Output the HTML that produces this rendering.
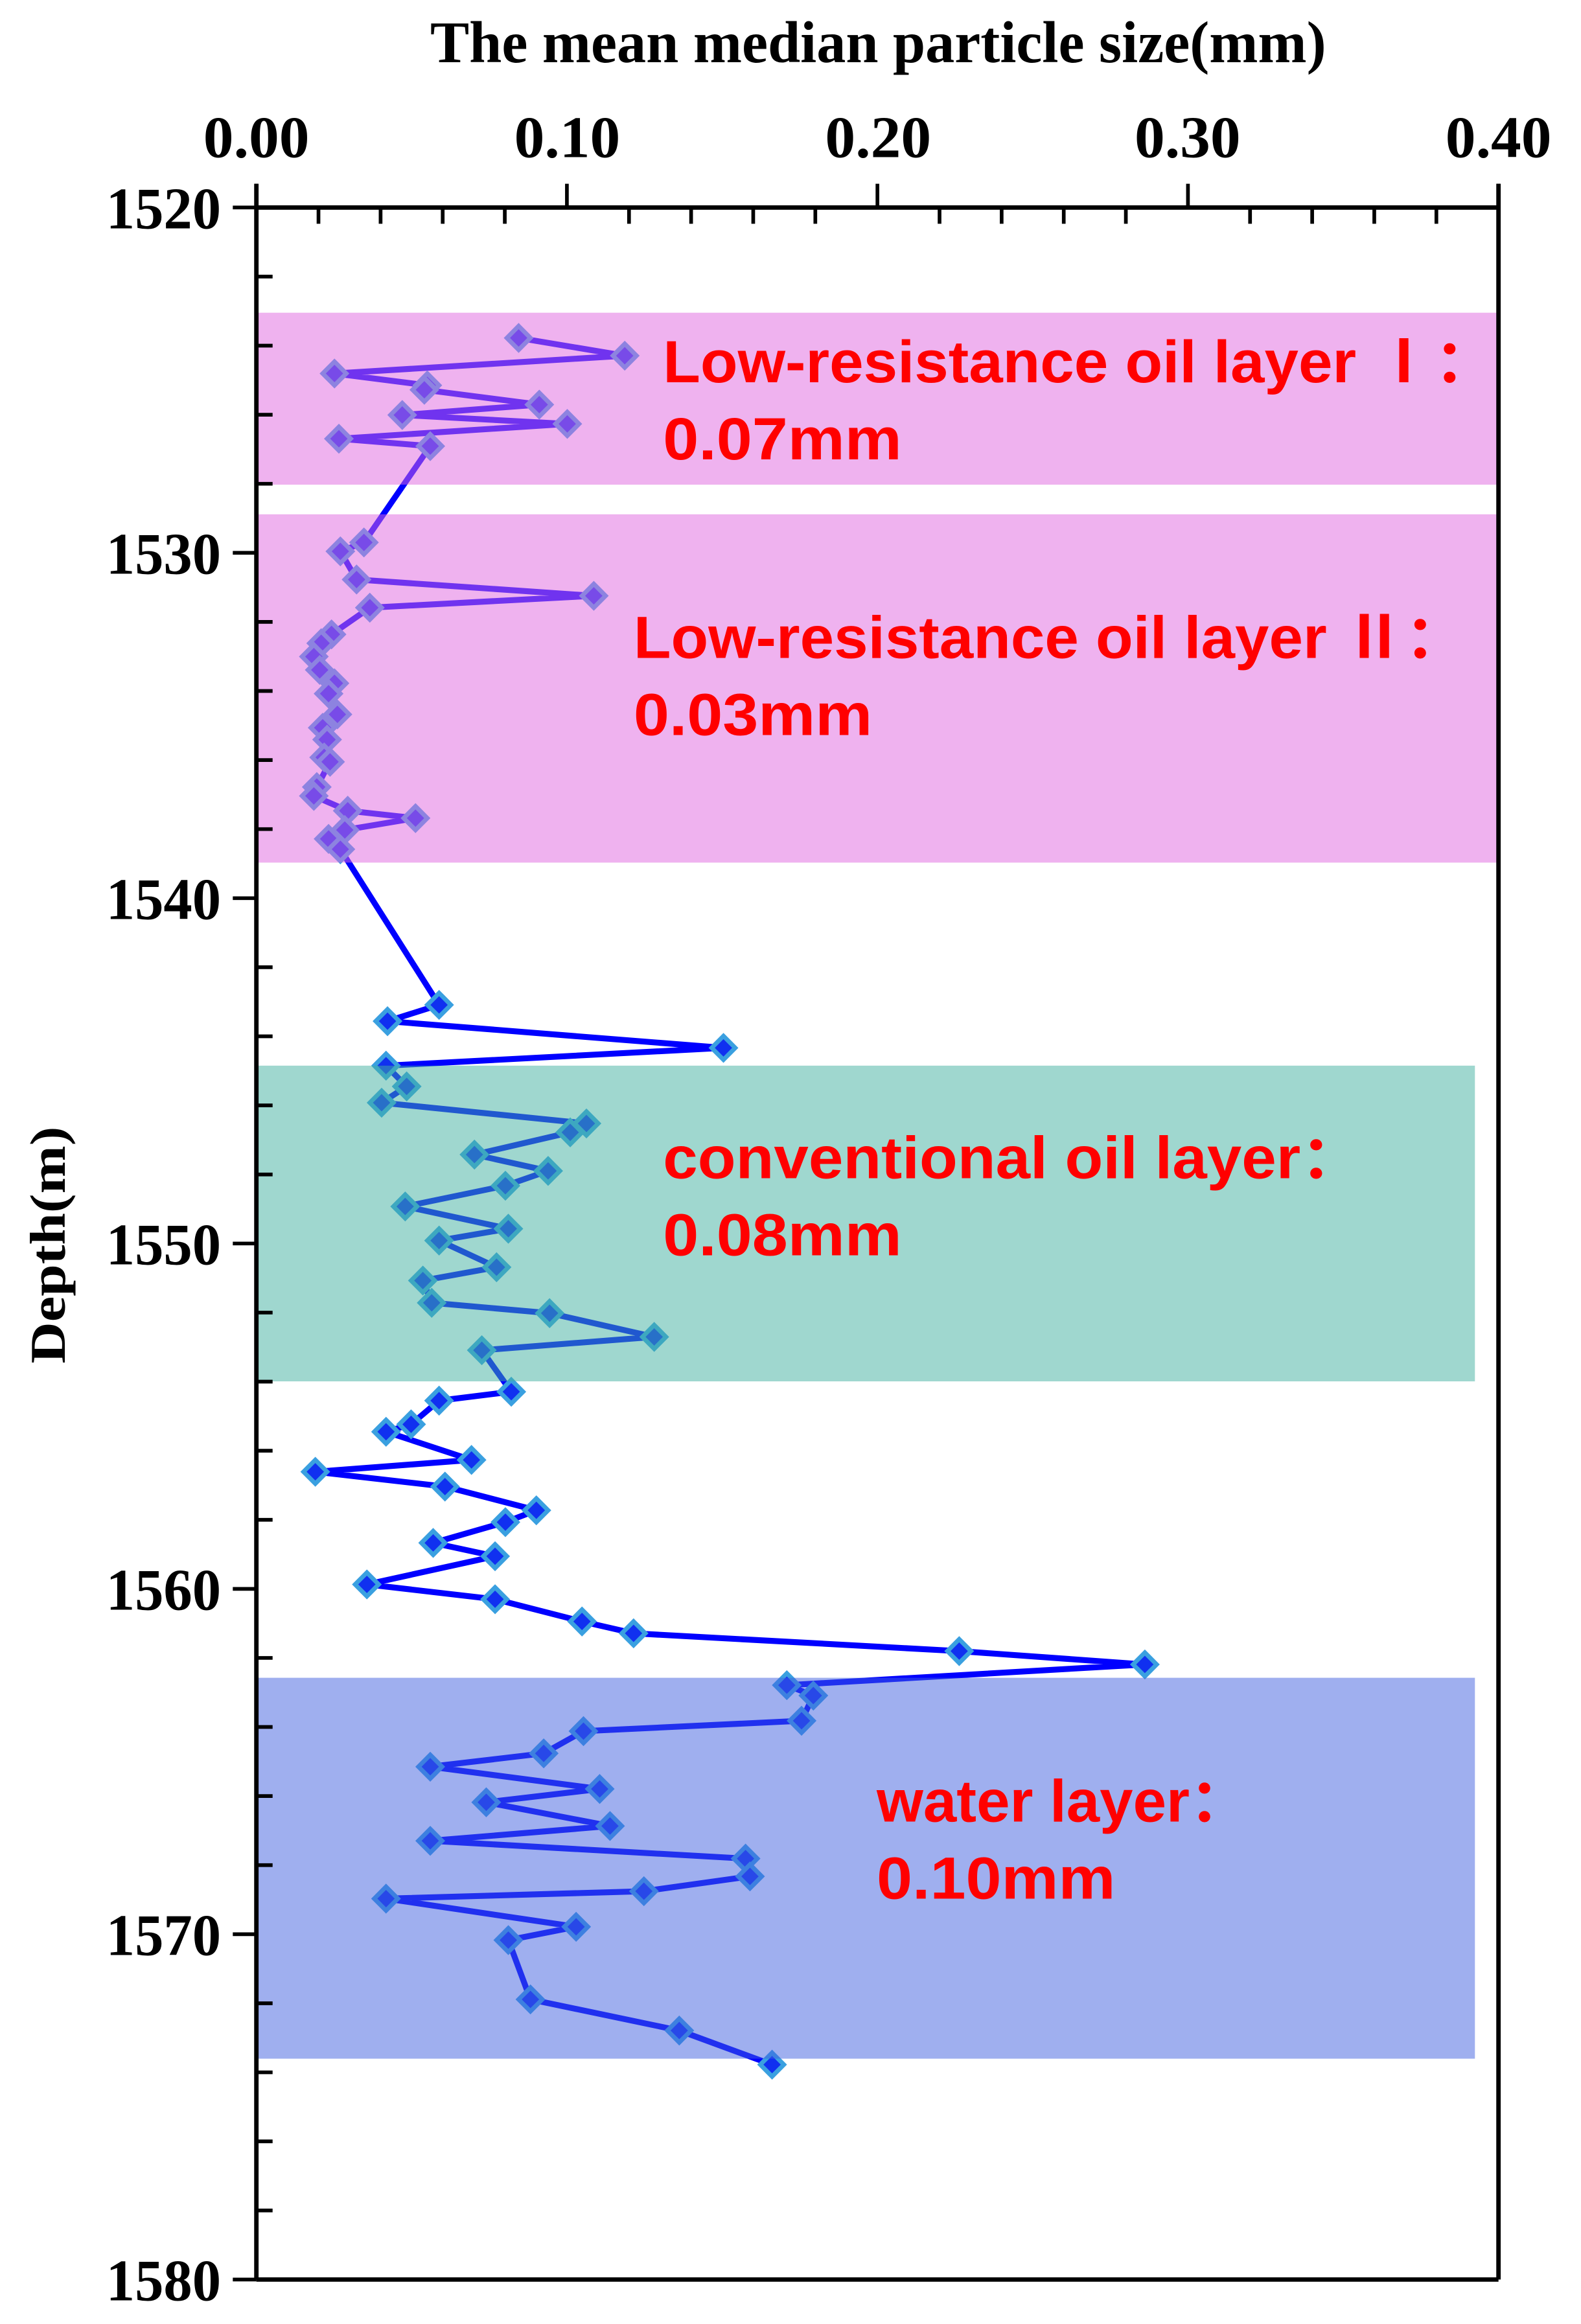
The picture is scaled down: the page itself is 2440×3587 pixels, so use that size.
<!DOCTYPE html>
<html><head><meta charset="utf-8"><style>html,body{margin:0;padding:0;background:#fff}svg{display:block}</style></head>
<body>
<svg width="2440" height="3587" viewBox="0 0 1073 1568" preserveAspectRatio="none" xmlns="http://www.w3.org/2000/svg" xmlns:xlink="http://www.w3.org/1999/xlink">
<defs><path id="d" d="M0,-8 L8,0 L0,8 L-8,0 Z" fill="#1030f0" stroke="#3aa0e0" stroke-width="3"/></defs>
<rect width="1073" height="1568" fill="#fff"/>
<polyline fill="none" stroke="#0000ff" stroke-width="4" stroke-linejoin="round" points="352,228 424,240 227,252 290,260 288,263 366,273 273,280 385,286 230,296 292,301 247,366 231,372 242,391 403,402 251,410 225,428 218,434 213,443 217,452 227,461 223,468 229,482 219,491 222,499 220,511 224,514 215,531 213,537 236,547 282,552 234,560 223,566 231,573 298,678 263,689 491,707 262,719 276,733 259,744 398,758 387,764 322,779 372,790 343,800 275,814 345,829 298,837 337,855 287,864 293,879 373,886 444,902 327,911 347,939 298,945 279,961 262,966 320,985 214,993 302,1003 364,1019 343,1027 294,1041 336,1050 249,1069 336,1079 395,1094 430,1102 651,1114 777,1123 534,1137 552,1144 544,1161 396,1168 369,1183 292,1192 407,1207 330,1216 414,1232 292,1242 506,1254 509,1266 437,1276 262,1281 391,1300 345,1309 360,1349 461,1370 524,1393"/>
<g>
<use xlink:href="#d" x="352" y="228"/><use xlink:href="#d" x="424" y="240"/><use xlink:href="#d" x="227" y="252"/><use xlink:href="#d" x="290" y="260"/><use xlink:href="#d" x="288" y="263"/><use xlink:href="#d" x="366" y="273"/><use xlink:href="#d" x="273" y="280"/><use xlink:href="#d" x="385" y="286"/><use xlink:href="#d" x="230" y="296"/><use xlink:href="#d" x="292" y="301"/>
<use xlink:href="#d" x="247" y="366"/><use xlink:href="#d" x="231" y="372"/><use xlink:href="#d" x="242" y="391"/><use xlink:href="#d" x="403" y="402"/><use xlink:href="#d" x="251" y="410"/><use xlink:href="#d" x="225" y="428"/><use xlink:href="#d" x="218" y="434"/><use xlink:href="#d" x="213" y="443"/><use xlink:href="#d" x="217" y="452"/><use xlink:href="#d" x="227" y="461"/>
<use xlink:href="#d" x="223" y="468"/><use xlink:href="#d" x="229" y="482"/><use xlink:href="#d" x="219" y="491"/><use xlink:href="#d" x="222" y="499"/><use xlink:href="#d" x="220" y="511"/><use xlink:href="#d" x="224" y="514"/><use xlink:href="#d" x="215" y="531"/><use xlink:href="#d" x="213" y="537"/><use xlink:href="#d" x="236" y="547"/><use xlink:href="#d" x="282" y="552"/>
<use xlink:href="#d" x="234" y="560"/><use xlink:href="#d" x="223" y="566"/><use xlink:href="#d" x="231" y="573"/><use xlink:href="#d" x="298" y="678"/><use xlink:href="#d" x="263" y="689"/><use xlink:href="#d" x="491" y="707"/><use xlink:href="#d" x="262" y="719"/><use xlink:href="#d" x="276" y="733"/><use xlink:href="#d" x="259" y="744"/><use xlink:href="#d" x="398" y="758"/>
<use xlink:href="#d" x="387" y="764"/><use xlink:href="#d" x="322" y="779"/><use xlink:href="#d" x="372" y="790"/><use xlink:href="#d" x="343" y="800"/><use xlink:href="#d" x="275" y="814"/><use xlink:href="#d" x="345" y="829"/><use xlink:href="#d" x="298" y="837"/><use xlink:href="#d" x="337" y="855"/><use xlink:href="#d" x="287" y="864"/><use xlink:href="#d" x="293" y="879"/>
<use xlink:href="#d" x="373" y="886"/><use xlink:href="#d" x="444" y="902"/><use xlink:href="#d" x="327" y="911"/><use xlink:href="#d" x="347" y="939"/><use xlink:href="#d" x="298" y="945"/><use xlink:href="#d" x="279" y="961"/><use xlink:href="#d" x="262" y="966"/><use xlink:href="#d" x="320" y="985"/><use xlink:href="#d" x="214" y="993"/><use xlink:href="#d" x="302" y="1003"/>
<use xlink:href="#d" x="364" y="1019"/><use xlink:href="#d" x="343" y="1027"/><use xlink:href="#d" x="294" y="1041"/><use xlink:href="#d" x="336" y="1050"/><use xlink:href="#d" x="249" y="1069"/><use xlink:href="#d" x="336" y="1079"/><use xlink:href="#d" x="395" y="1094"/><use xlink:href="#d" x="430" y="1102"/><use xlink:href="#d" x="651" y="1114"/><use xlink:href="#d" x="777" y="1123"/>
<use xlink:href="#d" x="534" y="1137"/><use xlink:href="#d" x="552" y="1144"/><use xlink:href="#d" x="544" y="1161"/><use xlink:href="#d" x="396" y="1168"/><use xlink:href="#d" x="369" y="1183"/><use xlink:href="#d" x="292" y="1192"/><use xlink:href="#d" x="407" y="1207"/><use xlink:href="#d" x="330" y="1216"/><use xlink:href="#d" x="414" y="1232"/><use xlink:href="#d" x="292" y="1242"/>
<use xlink:href="#d" x="506" y="1254"/><use xlink:href="#d" x="509" y="1266"/><use xlink:href="#d" x="437" y="1276"/><use xlink:href="#d" x="262" y="1281"/><use xlink:href="#d" x="391" y="1300"/><use xlink:href="#d" x="345" y="1309"/><use xlink:href="#d" x="360" y="1349"/><use xlink:href="#d" x="461" y="1370"/><use xlink:href="#d" x="524" y="1393"/>
</g>
<rect x="174" y="211" width="843" height="116" fill="#e066e0" opacity="0.5"/>
<rect x="174" y="347" width="843" height="235" fill="#e066e0" opacity="0.5"/>
<rect x="174" y="719" width="827" height="213" fill="#40b0a0" opacity="0.5"/>
<rect x="174" y="1132" width="827" height="257" fill="#4060e0" opacity="0.5"/>
<g stroke="#000" stroke-width="3" fill="none">
<line x1="174" y1="140" x2="1017" y2="140"/>
<line x1="174" y1="124" x2="174" y2="1538"/>
<line x1="1017" y1="124" x2="1017" y2="1538"/>
<line x1="174" y1="1538" x2="1017" y2="1538"/>
</g>
<path stroke="#000" stroke-width="2.5" fill="none" d="
M174,124V140 M384.75,124V140 M595.5,124V140 M806.25,124V140 M1017,124V140
M216.15,140V151 M258.3,140V151 M300.45,140V151 M342.6,140V151 M426.9,140V151 M469.05,140V151 M511.2,140V151 M553.35,140V151 M637.65,140V151 M679.8,140V151 M721.95,140V151 M764.1,140V151 M848.4,140V151 M890.55,140V151 M932.7,140V151 M974.85,140V151
M158,140H174 M158,373H174 M158,606H174 M158,839H174 M158,1072H174 M158,1305H174 M158,1538H174
M174,186.6H185 M174,233.2H185 M174,279.8H185 M174,326.4H185 M174,419.6H185 M174,466.2H185 M174,512.8H185 M174,559.4H185 M174,652.6H185 M174,699.2H185 M174,745.8H185 M174,792.4H185 M174,885.6H185 M174,932.2H185 M174,978.8H185 M174,1025.4H185 M174,1118.6H185 M174,1165.2H185 M174,1211.8H185 M174,1258.4H185 M174,1351.6H185 M174,1398.2H185 M174,1444.8H185 M174,1491.4H185"/>
<g font-family="Liberation Serif, serif" font-weight="bold" font-size="40" fill="#000">
<text x="596" y="42" text-anchor="middle" textLength="608" lengthAdjust="spacingAndGlyphs">The mean median particle size(mm)</text>
<text x="174" y="106" text-anchor="middle" textLength="72" lengthAdjust="spacingAndGlyphs">0.00</text>
<text x="385" y="106" text-anchor="middle" textLength="72" lengthAdjust="spacingAndGlyphs">0.10</text>
<text x="596" y="106" text-anchor="middle" textLength="72" lengthAdjust="spacingAndGlyphs">0.20</text>
<text x="806" y="106" text-anchor="middle" textLength="72" lengthAdjust="spacingAndGlyphs">0.30</text>
<text x="1017" y="106" text-anchor="middle" textLength="72" lengthAdjust="spacingAndGlyphs">0.40</text>
<text x="150" y="154" text-anchor="end" textLength="78" lengthAdjust="spacingAndGlyphs">1520</text>
<text x="150" y="387" text-anchor="end" textLength="78" lengthAdjust="spacingAndGlyphs">1530</text>
<text x="150" y="620" text-anchor="end" textLength="78" lengthAdjust="spacingAndGlyphs">1540</text>
<text x="150" y="853" text-anchor="end" textLength="78" lengthAdjust="spacingAndGlyphs">1550</text>
<text x="150" y="1086" text-anchor="end" textLength="78" lengthAdjust="spacingAndGlyphs">1560</text>
<text x="150" y="1319" text-anchor="end" textLength="78" lengthAdjust="spacingAndGlyphs">1570</text>
<text x="150" y="1552" text-anchor="end" textLength="78" lengthAdjust="spacingAndGlyphs">1580</text>
<text transform="translate(44,840) rotate(-90)" text-anchor="middle" font-size="34" textLength="160" lengthAdjust="spacingAndGlyphs">Depth(m)</text>
</g>
<g font-family="Liberation Sans, Noto Sans CJK SC, sans-serif" font-weight="bold" font-size="40" fill="#ff0000">
<text x="450" y="258" textLength="565" lengthAdjust="spacingAndGlyphs">Low-resistance oil layer Ⅰ：</text>
<text x="450" y="310" textLength="162" lengthAdjust="spacingAndGlyphs">0.07mm</text>
<text x="430" y="444" textLength="565" lengthAdjust="spacingAndGlyphs">Low-resistance oil layer Ⅱ：</text>
<text x="430" y="496" textLength="162" lengthAdjust="spacingAndGlyphs">0.03mm</text>
<text x="450" y="795" textLength="475" lengthAdjust="spacingAndGlyphs">conventional oil layer：</text>
<text x="450" y="847" textLength="162" lengthAdjust="spacingAndGlyphs">0.08mm</text>
<text x="595" y="1229" textLength="253" lengthAdjust="spacingAndGlyphs">water layer：</text>
<text x="595" y="1281" textLength="162" lengthAdjust="spacingAndGlyphs">0.10mm</text>
</g>
</svg>
</body></html>
